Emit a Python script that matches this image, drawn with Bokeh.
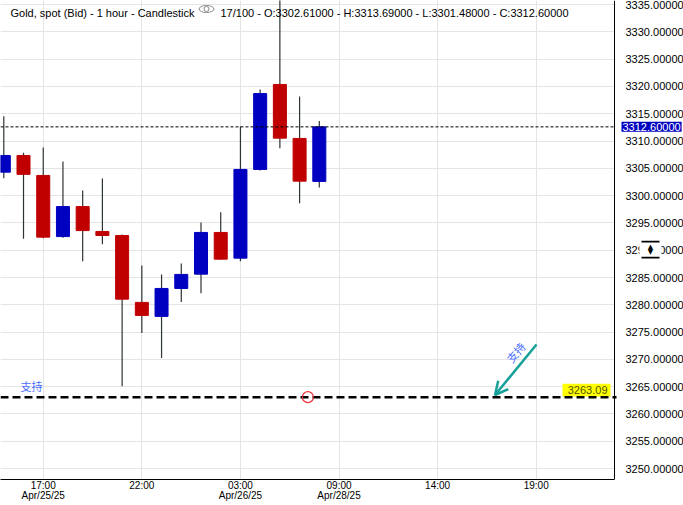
from bokeh.plotting import figure
from bokeh.models import (Range1d, FixedTicker, PrintfTickFormatter, Span, Label, Arrow,
                          OpenHead, BoxAnnotation)
from bokeh.embed import file_html
from bokeh.resources import INLINE

# ---------------- data (hourly candles, index = bar number) ----------------
IDX   = [0, 1, 2, 3, 4, 5, 6, 7, 8, 9, 10, 11, 12, 13, 14, 15, 16]
OPEN  = [3304.30, 3307.36, 3303.70, 3292.50, 3298.00, 3293.44, 3292.70, 3280.44, 3277.88,
         3283.00, 3285.62, 3293.26, 3288.55, 3304.80, 3320.37, 3310.48, 3302.61]
HIGH  = [3314.56, 3307.86, 3308.83, 3306.26, 3300.95, 3303.15, 3292.90, 3287.22, 3285.57,
         3287.58, 3295.09, 3296.98, 3312.67, 3319.45, 3338.00, 3318.17, 3313.69]
LOW   = [3303.20, 3292.10, 3292.20, 3292.30, 3288.00, 3291.10, 3265.10, 3274.82, 3270.24,
         3280.50, 3282.14, 3288.30, 3288.00, 3304.60, 3308.70, 3298.63, 3301.48]
CLOSE = [3307.36, 3303.90, 3292.40, 3298.00, 3293.60, 3292.70, 3281.04, 3278.06, 3283.00,
         3285.57, 3293.26, 3288.37, 3304.80, 3318.70, 3310.53, 3302.66, 3312.60]

XTICK_POS    = [2, 7, 12, 17, 22, 27]
XTICK_LABELS = ["17:00\nApr/25/25", "22:00", "03:00\nApr/26/25", "09:00\nApr/28/25", "14:00", "19:00"]
YTICKS       = list(range(3250, 3340, 5))

SUPPORT = 3263.09
SUPPORT_TEXT = "支持"
MARK_X = 15.42          # bar index of the small red circle on the support line
TITLE_LEFT = "Gold, spot (Bid) - 1 hour - Candlestick"
TITLE_RIGHT = "17/100 - O:3302.61000 - H:3313.69000 - L:3301.48000 - C:3312.60000"

# ---------------- layout helpers ----------------
W, H = 683, 505
PPX = 19.72                     # pixels per bar
XL = -0.167
XR = XL + W / PPX
YB, YT = 3248.0, 3335.75
FH = 479
PLOT_RIGHT = 614                # right edge of the price area (pixels)

def dx(px):
    return XL + px / PPX

def dy(py):
    return YT - py * (YT - YB) / FH

BLUE, RED, WICK = "#0000c0", "#c00000", "#2d3436"
FONT = "Liberation Sans"

p = figure(width=W, height=H,
           x_range=Range1d(XL, XR), y_range=Range1d(YB, YT),
           y_axis_location="right", output_backend="svg", toolbar_location=None,
           min_border_left=0, min_border_top=0, min_border_right=0, min_border_bottom=26)
p.outline_line_color = None
p.background_fill_color = "white"
p.border_fill_color = "white"

# grids
p.xgrid.ticker = FixedTicker(ticks=XTICK_POS)
p.ygrid.ticker = FixedTicker(ticks=YTICKS)
for g in (p.xgrid[0], p.ygrid[0]):
    g.grid_line_color = "#e4e4e4"
    g.grid_line_width = 1

# price axis (labels drawn over the right strip of the canvas)
yax = p.yaxis[0]
yax.ticker = FixedTicker(ticks=YTICKS)
yax.formatter = PrintfTickFormatter(format="%.5f")
yax.fixed_location = dx(686)
yax.major_tick_out = 0
yax.major_tick_in = 0
yax.minor_tick_out = 0
yax.minor_tick_in = 0
yax.major_label_standoff = -61
yax.axis_line_color = None
yax.major_label_text_font = FONT
yax.major_label_text_font_size = "11px"
yax.major_label_text_color = "#000000"

# time axis
xax = p.xaxis[0]
xax.ticker = FixedTicker(ticks=XTICK_POS)
xax.major_label_overrides = {t: l for t, l in zip(XTICK_POS, XTICK_LABELS)}
xax.bounds = (XL, dx(PLOT_RIGHT))
xax.major_tick_out = 0
xax.major_tick_in = 0
xax.minor_tick_out = 0
xax.minor_tick_in = 0
xax.major_label_standoff = 0
xax.axis_line_color = "black"
xax.major_label_text_font = FONT
xax.major_label_text_font_size = "10px"
xax.major_label_text_color = "#000000"
xax.major_label_text_line_height = 0.95

# white strip to the right of the price area (hides grid lines there)
p.quad(left=[dx(PLOT_RIGHT)], right=[XR + 1], top=[YT + 10], bottom=[YB - 10],
       fill_color="white", line_color=None)

# candles
colors = [BLUE if c >= o else RED for o, c in zip(OPEN, CLOSE)]
tops = [max(o, c) for o, c in zip(OPEN, CLOSE)]
bots = [min(o, c) for o, c in zip(OPEN, CLOSE)]
p.segment(x0=IDX, y0=HIGH, x1=IDX, y1=LOW, line_color=WICK, line_width=1.2)
p.vbar(x=IDX, width=0.66, top=tops, bottom=bots, fill_color=colors, line_color=colors)

# yellow price tag for the support line
p.quad(left=[dx(562)], right=[dx(610)], top=[dy(383.3)], bottom=[dy(396)],
       fill_color="#ffff00", line_color=None)
p.add_layout(Label(x=dx(607), y=dy(389.8), text=f"{SUPPORT:.2f}", text_align="right",
                   text_baseline="middle", text_font=FONT, text_font_size="11px",
                   text_color="#555500"))

# current price dotted line and support dashed line (end at the price-area edge)
p.segment(x0=[XL], y0=[CLOSE[-1]], x1=[dx(PLOT_RIGHT)], y1=[CLOSE[-1]],
          line_color="black", line_width=1, line_dash="3 2")
p.segment(x0=[XL], y0=[SUPPORT], x1=[dx(PLOT_RIGHT + 2)], y1=[SUPPORT],
          line_color="black", line_width=2.5, line_dash="8 4")

# right border of the price area
p.add_layout(Span(location=dx(PLOT_RIGHT), dimension="height", line_color="black",
                  line_width=1))

# red circle marker on the support line
p.scatter(x=[MARK_X], y=[SUPPORT], size=11, marker="circle", fill_color=None,
          line_color="#e8303a", line_width=1.2)

# support text (left)
p.add_layout(Label(x=dx(20), y=dy(385.5), text=SUPPORT_TEXT, text_align="left",
                   text_baseline="middle", text_font="Noto Sans CJK SC",
                   text_font_size="11px", text_color="#4a6dff"))

# arrow + rotated text
TEAL = "#16a09a"
p.add_layout(Arrow(end=OpenHead(size=13, line_color=TEAL, line_width=2.5),
                   x_start=dx(536), y_start=dy(344), x_end=dx(494.5), y_end=dy(394.5),
                   line_color=TEAL, line_width=2.5))
p.add_layout(Label(x=dx(515), y=dy(351.7), text=SUPPORT_TEXT, angle=0.87,
                   text_align="center", text_baseline="middle",
                   text_font="Noto Sans CJK SC", text_font_size="11px",
                   text_color="#4a6dff"))

# header texts
p.add_layout(Label(x=dx(10), y=dy(12.5), text=TITLE_LEFT, text_align="left",
                   text_baseline="alphabetic", text_font=FONT, text_font_size="11px",
                   text_color="#000000"))
p.add_layout(Label(x=dx(220), y=dy(12.5), text=TITLE_RIGHT, text_align="left",
                   text_baseline="alphabetic", text_font=FONT, text_font_size="11px",
                   text_color="#000000"))
# eye icon
p.ellipse(x=[dx(206)], y=[dy(8.5)], width=15, height=7, width_units="screen",
          height_units="screen", fill_color=None, line_color="#8a8a8a", line_width=1)
p.scatter(x=[dx(206)], y=[dy(8.5)], size=5, marker="circle", fill_color=None,
          line_color="#8a8a8a", line_width=1)

# current price tag on the price axis
p.add_layout(Label(x=dx(621), y=CLOSE[-1], text=f"{CLOSE[-1]:.5f}", text_align="left",
                   text_baseline="middle", text_font=FONT, text_font_size="11px",
                   text_color="white", background_fill_color=BLUE, padding=1))

# scroll widget on the price axis
p.add_layout(BoxAnnotation(left=dx(639), right=dx(661), top=dy(239.5), bottom=dy(258.5),
                           fill_color="white", fill_alpha=1, line_color=None))
p.add_layout(BoxAnnotation(left=dx(641), right=dx(659), top=dy(240.3), bottom=dy(242),
                           fill_color="black", fill_alpha=1, line_color=None))
p.add_layout(BoxAnnotation(left=dx(641), right=dx(659), top=dy(256.3), bottom=dy(258),
                           fill_color="black", fill_alpha=1, line_color=None))
p.add_layout(Label(x=dx(650), y=dy(246.5), text="\u25b2", text_align="center",
                   text_baseline="middle", text_font="DejaVu Sans", text_font_size="7px",
                   text_color="black"))
p.add_layout(Label(x=dx(650), y=dy(251.5), text="\u25bc", text_align="center",
                   text_baseline="middle", text_font="DejaVu Sans", text_font_size="7px",
                   text_color="black"))

open("out.html", "w").write(file_html(p, INLINE))
